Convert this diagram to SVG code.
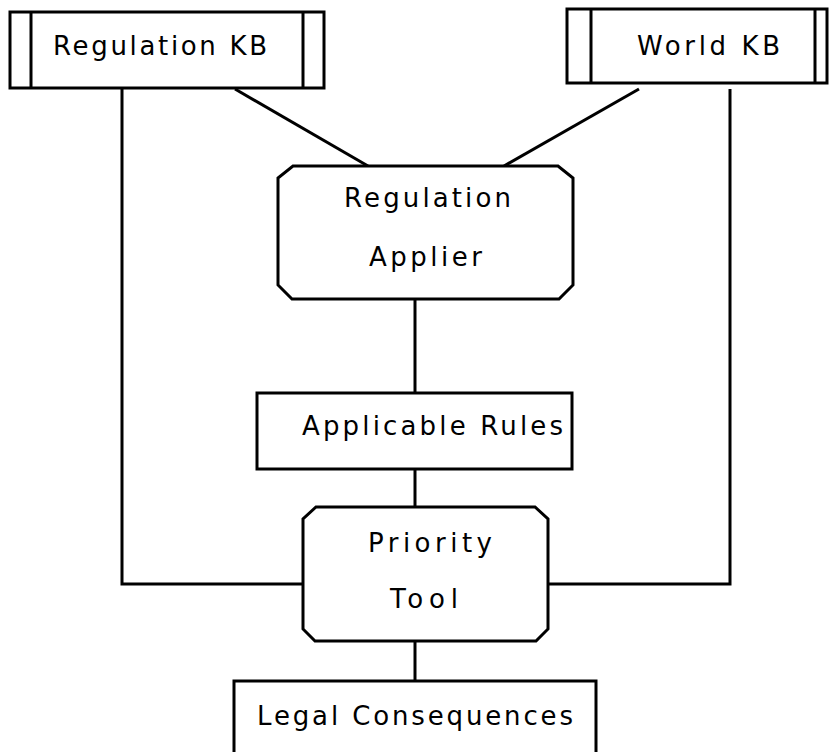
<svg xmlns="http://www.w3.org/2000/svg" width="829" height="752" viewBox="0 0 829 752">
<style>
.n{fill:#fff;stroke:#000;stroke-width:3}
.l{fill:none;stroke:#000;stroke-width:3}
.t{font-family:"DejaVu Sans",Verdana,sans-serif;font-size:26px;fill:#000}
</style>
<rect width="829" height="752" fill="#fff"/>
<g id="connectors" class="l">
<polyline points="122,88 122,584 303,584"/>
<polyline points="730,89 730,584 548,584"/>
<line x1="235" y1="89" x2="368" y2="166"/>
<line x1="639" y1="89" x2="504" y2="166"/>
<line x1="415" y1="299" x2="415" y2="393"/>
<line x1="415" y1="469" x2="415" y2="507"/>
<line x1="415" y1="641" x2="415" y2="681"/>
</g>
<g id="regulation-kb">
<rect class="n" x="10" y="12" width="314" height="76"/>
<line class="l" x1="31" y1="12" x2="31" y2="88"/>
<line class="l" x1="303" y1="12" x2="303" y2="88"/>
<text class="t" x="53" y="55" textLength="214" lengthAdjust="spacing">Regulation KB</text>
</g>
<g id="world-kb">
<rect class="n" x="567" y="9" width="260" height="74"/>
<line class="l" x1="591" y1="9" x2="591" y2="83"/>
<line class="l" x1="815" y1="9" x2="815" y2="83"/>
<text class="t" x="637" y="55" textLength="143" lengthAdjust="spacing">World KB</text>
</g>
<g id="regulation-applier">
<path class="n" d="M293,166 H558 L573,178 V285 L559,299 H292 L278,285 V178 Z"/>
<text class="t" x="344" y="207" textLength="167" lengthAdjust="spacing">Regulation</text>
<text class="t" x="369" y="266" textLength="113" lengthAdjust="spacing">Applier</text>
</g>
<g id="applicable-rules">
<rect class="n" x="257" y="393" width="315" height="76"/>
<text class="t" x="302" y="435" textLength="261" lengthAdjust="spacing">Applicable Rules</text>
</g>
<g id="priority-tool">
<path class="n" d="M316,507 H535 L548,519 V629 L536,641 H315 L303,629 V519 Z"/>
<text class="t" x="368" y="552" textLength="124" lengthAdjust="spacing">Priority</text>
<text class="t" x="390" y="608" textLength="68" lengthAdjust="spacing">Tool</text>
</g>
<g id="legal-consequences">
<rect class="n" x="234" y="681" width="362" height="90"/>
<text class="t" x="257" y="725" textLength="316" lengthAdjust="spacing">Legal Consequences</text>
</g>
</svg>
